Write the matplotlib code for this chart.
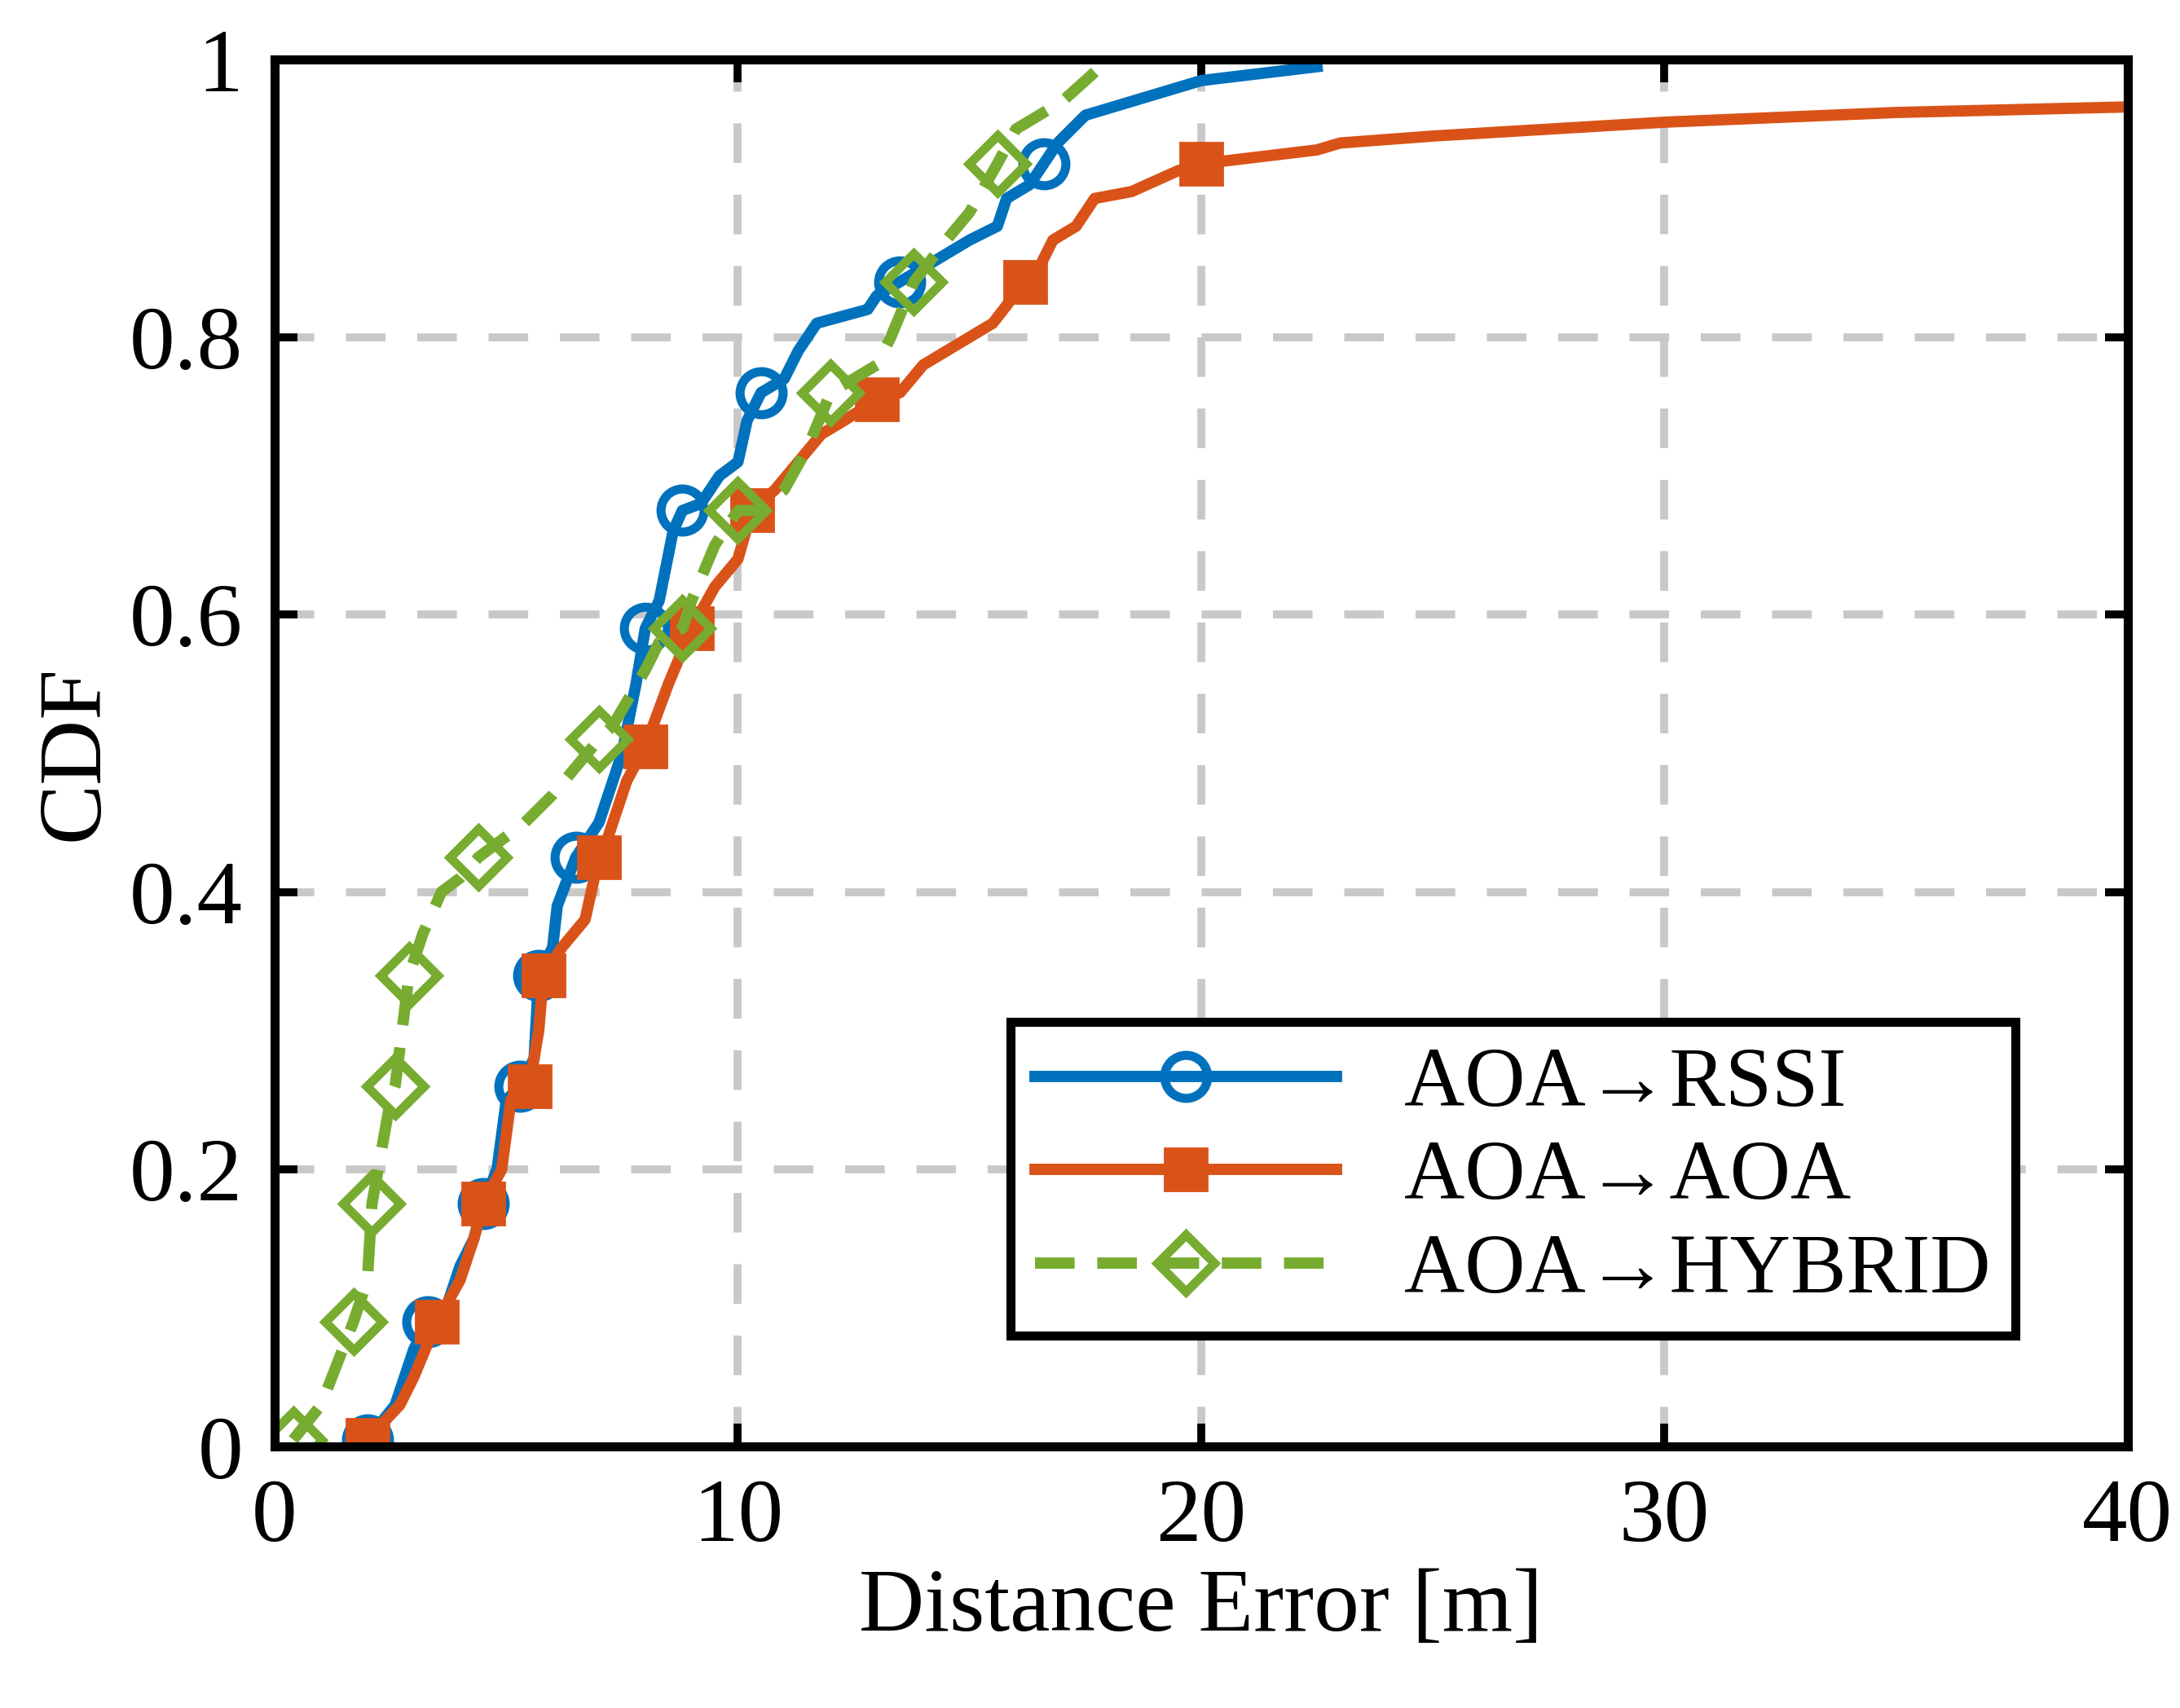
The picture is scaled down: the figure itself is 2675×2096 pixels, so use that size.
import numpy as np
import matplotlib.pyplot as plt

# CDF curves
rssi_x = [2, 2.6, 3, 3.3, 3.7, 4, 4.3, 4.5, 4.8, 5, 5.3, 5.6, 5.7, 6, 6.1, 6.5, 7, 7.5, 7.8, 8, 8.3, 8.6, 8.8,
          9.2, 9.6, 10, 10.2, 10.5, 11, 11.3, 11.7, 12.8, 13, 13.5, 14, 15, 15.6, 15.8, 16.3, 16.6, 16.9,
          17.5, 18.5, 19.5, 20, 22.5]
rssi_y = [0.005, 0.03, 0.07, 0.09, 0.1, 0.13, 0.15, 0.175, 0.2, 0.25, 0.26, 0.28, 0.34, 0.36, 0.39, 0.425,
          0.45, 0.5, 0.55, 0.59, 0.61, 0.66, 0.675, 0.68, 0.7, 0.71, 0.74, 0.76, 0.77, 0.79, 0.81, 0.82, 0.83,
          0.84, 0.85, 0.87, 0.88, 0.9, 0.91, 0.925, 0.94, 0.96, 0.97, 0.98, 0.985, 0.995]
aoa_x = [2, 2.7, 3, 3.5, 4, 4.3, 4.5, 4.9, 5.1, 5.5, 5.7, 5.8, 6.2, 6.7, 7, 7.2, 7.6, 8, 8.5, 9, 9.5, 10,
         10.3, 10.8, 11.3, 11.8, 12.3, 13, 13.5, 14, 15, 15.5, 16.2, 16.5, 16.8, 17.3, 17.7, 18.5, 19.5, 20,
         22.5, 23, 25, 30, 35, 40]
aoa_y = [0.005, 0.03, 0.05, 0.09, 0.12, 0.15, 0.175, 0.2, 0.25, 0.26, 0.3, 0.34, 0.36, 0.38, 0.425, 0.44,
         0.48, 0.505, 0.55, 0.59, 0.62, 0.64, 0.675, 0.69, 0.71, 0.73, 0.74, 0.755, 0.76, 0.78, 0.8, 0.81,
         0.84, 0.85, 0.87, 0.88, 0.9, 0.905, 0.92, 0.925, 0.935, 0.94, 0.945, 0.955, 0.962, 0.966]
hyb_x = [0.4, 1, 1.7, 2, 2.1, 2.5, 2.6, 2.9, 3.2, 3.6, 4, 4.4, 5, 5.4, 6, 6.5, 7, 7.3, 8, 8.3, 8.8, 9, 9.5,
         10, 10.5, 11, 11.5, 12, 12.5, 13, 13.3, 13.8, 14.5, 15, 15.6, 16, 17, 18]
hyb_y = [0.005, 0.03, 0.09, 0.12, 0.175, 0.25, 0.26, 0.34, 0.37, 0.4, 0.41, 0.425, 0.44, 0.45, 0.47, 0.49,
         0.51, 0.52, 0.56, 0.58, 0.59, 0.61, 0.65, 0.675, 0.675, 0.69, 0.72, 0.76, 0.77, 0.78, 0.8, 0.84,
         0.87, 0.89, 0.925, 0.95, 0.97, 1.0]

rssi_marks = [0.005, 0.09, 0.175, 0.26, 0.34, 0.425, 0.59, 0.675, 0.76, 0.84, 0.925]
aoa_marks = [0.005, 0.09, 0.175, 0.26, 0.34, 0.425, 0.505, 0.59, 0.675, 0.755, 0.84, 0.925]
hyb_marks = [0.005, 0.09, 0.175, 0.26, 0.34, 0.425, 0.51, 0.59, 0.675, 0.76, 0.84, 0.925]


def mark_idx(ys, levels):
    ys = np.asarray(ys)
    return [int(np.argmin(np.abs(ys - v))) for v in levels]


plt.rcParams["font.family"] = "Liberation Serif"
fig = plt.figure(figsize=(13.375, 10.48), dpi=200)
ax = fig.add_axes([0.126, 0.153, 0.85, 0.812])

lw = 5
ax.plot(rssi_x, rssi_y, "-", color="#0072BD", lw=lw, marker="o", ms=19, mfc="none", mew=4,
        markevery=mark_idx(rssi_y, rssi_marks), label="AOA→RSSI")
ax.plot(aoa_x, aoa_y, "-", color="#D95319", lw=lw, marker="s", ms=19, mfc="#D95319",
        markevery=mark_idx(aoa_y, aoa_marks), label="AOA→AOA")
ax.plot(hyb_x, hyb_y, "--", color="#77AC30", lw=lw, marker="D", ms=18, mfc="none", mew=4,
        dashes=(3.5, 2), markevery=mark_idx(hyb_y, hyb_marks), label="AOA→HYBRID")

ax.set_xlim(0, 40)
ax.set_ylim(0, 1)
ax.set_xticks([0, 10, 20, 30, 40])
ax.set_yticks([0, 0.2, 0.4, 0.6, 0.8, 1])
ax.set_yticklabels(["0", "0.2", "0.4", "0.6", "0.8", "1"])
ax.grid(True, ls=(0, (5, 4)), color="#c8c8c8", lw=3.5)
ax.set_axisbelow(True)
ax.tick_params(direction="in", length=10, width=3.5, labelsize=40, top=True, right=True, pad=14)
for s in ax.spines.values():
    s.set_linewidth(4)
ax.set_xlabel("Distance Error [m]", fontsize=40, labelpad=4)
ax.set_ylabel("CDF", fontsize=40, labelpad=6)

leg = ax.legend(loc="lower right", fontsize=37, fancybox=False, framealpha=1, edgecolor="black",
                handlelength=3.6, borderpad=0.3, labelspacing=0.2, bbox_to_anchor=(0.962, 0.05))
leg.get_frame().set_linewidth(4)

fig.savefig("out.png", dpi=200)
